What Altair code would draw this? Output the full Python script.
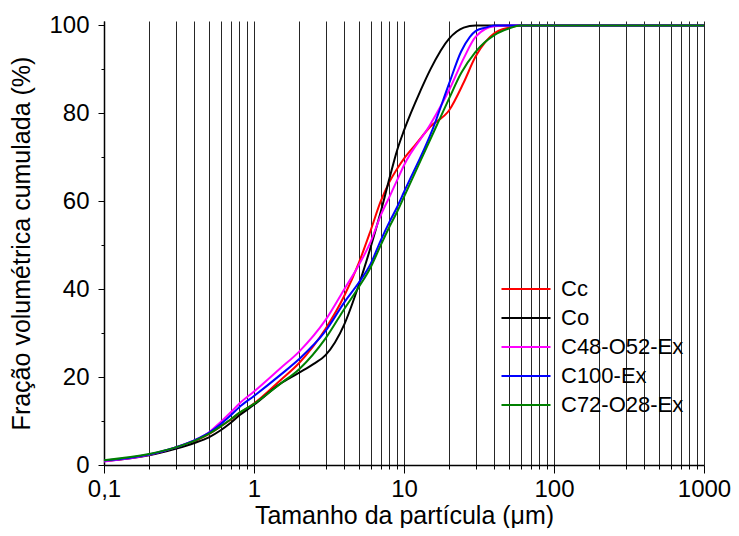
import altair as alt
import pandas as pd

series_names = ["Cc", "Co", "C48-O52-Ex", "C100-Ex", "C72-O28-Ex"]
series_colors = ["#FF0000", "#000000", "#FF00FF", "#0000FF", "#008000"]

cc_x = [0.1, 0.2, 0.3, 0.4, 0.5, 0.6, 0.7, 0.8, 1, 1.5, 2, 3, 4, 5, 6, 7, 8, 9, 10, 12, 15, 20, 25, 30, 35, 40, 50, 60, 100, 1000]
cc_y = [0.9, 2.3, 3.9, 5.4, 7.0, 8.8, 10.3, 11.8, 14.0, 19.3, 23.2, 31.0, 38.5, 46.0, 53.4, 60.0, 64.4, 67.4, 69.7, 73.0, 77.0, 80.7, 87.0, 92.9, 96.3, 98.2, 99.5, 100, 100, 100]

co_x = [0.1, 0.2, 0.3, 0.4, 0.5, 0.6, 0.7, 0.8, 1, 1.5, 2, 2.5, 3, 4, 5, 6, 7, 8, 9, 10, 12.9, 15, 20, 25, 30, 100, 1000]
co_y = [0.9, 2.2, 3.7, 5.0, 6.3, 7.9, 9.6, 11.3, 13.7, 18.5, 21.0, 23.0, 25.0, 32.0, 41.0, 49.6, 57.6, 65.2, 71.6, 76.1, 85.2, 90.0, 97.0, 99.5, 100, 100, 100]

m_x = [0.1, 0.2, 0.3, 0.4, 0.5, 0.6, 0.7, 0.8, 1, 1.5, 2, 3, 4, 5, 6, 7, 8, 9, 10, 15, 20, 25, 30, 40, 50, 100, 1000]
m_y = [0.8, 2.3, 4.0, 5.6, 7.4, 9.8, 12.0, 14.0, 16.7, 22.0, 25.8, 33.0, 40.0, 45.5, 50.8, 56.8, 61.0, 64.8, 68.2, 77.5, 85.3, 92.5, 97.4, 99.8, 100, 100, 100]

b_x = [0.1, 0.2, 0.3, 0.4, 0.5, 0.6, 0.7, 0.8, 1, 1.5, 2, 3, 4, 5, 6, 7, 8, 9, 10, 15.6, 20, 24, 27.5, 30, 35, 40, 100, 1000]
b_y = [1.0, 2.4, 4.0, 5.6, 7.3, 9.3, 11.3, 13.2, 15.7, 20.5, 24.1, 30.5, 37.0, 41.5, 45.8, 51.1, 55.3, 58.7, 62.1, 76.6, 86.8, 94.0, 97.4, 98.7, 99.5, 100, 100, 100]

g_x = [0.1, 0.2, 0.3, 0.4, 0.5, 0.6, 0.7, 0.8, 1, 1.5, 2, 3, 4, 5, 6, 7, 8, 9, 10, 16.2, 20, 24, 30, 40, 50, 60, 100, 1000]
g_y = [1.1, 2.5, 4.0, 5.5, 7.1, 8.8, 10.4, 11.9, 13.9, 18.5, 21.8, 28.8, 35.5, 40.5, 45.0, 50.0, 54.2, 57.6, 61.0, 76.6, 83.4, 89.1, 94.0, 97.8, 99.3, 100, 100, 100]

x_ticks = [m * 10.0 ** e for e in range(-1, 3) for m in range(1, 10)] + [1000]
x_ticks = [float(f"{v:.6g}") for v in x_ticks]
y_ticks = list(range(0, 101, 10))

xs = [cc_x, co_x, m_x, b_x, g_x]
ys = [cc_y, co_y, m_y, b_y, g_y]
rows = []
for i, (name, sx, sy) in enumerate(zip(series_names, xs, ys)):
    for x, y in zip(sx, sy):
        rows.append({"serie": name, "d": x, "v": y, "ord": i})
df = pd.DataFrame(rows)

is_major = "abs(log(datum.value)/LN10 - round(log(datum.value)/LN10)) < 0.001"

font = "Liberation Sans"

chart = alt.Chart(df).mark_line(strokeWidth=2, interpolate="monotone").encode(
    x=alt.X("d:Q",
            scale=alt.Scale(type="log", domain=[0.1, 1000], nice=False),
            axis=alt.Axis(
                values=x_ticks,
                title="Tamanho da partícula (μm)",
                grid=True, gridColor="#000000", gridWidth=1, gridOpacity=0.85,
                domainColor="#000000", domainWidth=1.5,
                tickColor="#000000", tickWidth=1,
                tickSize={"condition": {"test": is_major, "value": 8}, "value": 4},
                labelExpr=f"({is_major}) ? (datum.value < 1 ? '0,1' : format(datum.value, 'd')) : ''",
                labelOverlap=False, labelFlush=False,
                labelFont=font, labelFontSize=24, labelColor="#000000", labelPadding=4,
                titleFont=font, titleFontSize=25, titleFontWeight="normal", titleColor="#000000",
                titlePadding=2,
            )),
    y=alt.Y("v:Q",
            scale=alt.Scale(domain=[0, 101], nice=False, zero=True),
            axis=alt.Axis(
                values=y_ticks,
                title="Fração volumétrica cumulada (%)",
                grid=False,
                domainColor="#000000", domainWidth=1.5,
                tickColor="#000000", tickWidth=1,
                tickSize={"condition": {"test": "datum.value % 20 == 0", "value": 6}, "value": 3},
                labelExpr="datum.value % 20 == 0 ? format(datum.value, 'd') : ''",
                labelOverlap=False, labelFlush=False,
                labelFont=font, labelFontSize=24, labelColor="#000000", labelPadding=9,
                titleFont=font, titleFontSize=25, titleFontWeight="normal", titleColor="#000000",
                titlePadding=14,
            )),
    color=alt.Color("serie:N",
                    scale=alt.Scale(domain=series_names, range=series_colors),
                    sort=series_names,
                    legend=alt.Legend(
                        title=None, orient="none", legendX=411, legendY=257,
                        symbolType="M-3,0L3,0", symbolSize=267, symbolStrokeWidth=2,
                        labelFont=font, labelFontSize=22, labelColor="#000000",
                        labelOffset=24, rowPadding=7, padding=0,
                    )),
    order=alt.Order("ord:Q"),
    detail="serie:N",
).properties(
    width=600, height=444,
    autosize=alt.AutoSizeParams(type="none"),
    padding={"left": 96, "top": 13, "right": 27, "bottom": 63},
).configure_view(stroke=None)

chart.save("out.html", embed_options={"renderer": "svg", "actions": False})
